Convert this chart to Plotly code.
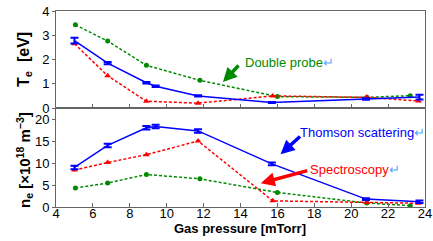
import plotly.graph_objects as go
from plotly.subplots import make_subplots

# Gas pressure [mTorr]
x_thomson = [5.0, 6.8, 8.9, 9.4, 11.7, 15.7, 20.8, 23.7]
x_spectro = [5.0, 6.8, 8.9, 11.7, 15.75, 20.85, 23.65]
x_probe = [5.05, 6.8, 8.9, 11.8, 16.0, 20.85, 23.2]

# Te [eV]
te_thomson = [2.78, 1.85, 1.04, 0.9, 0.5, 0.23, 0.37, 0.45]
te_thomson_err = [0.12, 0.05, 0.03, 0.03, 0.03, 0.02, 0.03, 0.1]
te_spectro = [2.65, 1.33, 0.28, 0.2, 0.5, 0.44, 0.29]
te_probe = [3.43, 2.76, 1.76, 1.14, 0.47, 0.44, 0.51]

# ne [x10^18 m^-3]
ne_thomson = [9.0, 14.0, 18.0, 18.3, 17.3, 9.8, 1.8, 1.2]
ne_thomson_err = [0.4, 0.4, 0.4, 0.4, 0.4, 0.3, 0.2, 0.3]
ne_spectro = [8.4, 10.1, 11.9, 15.0, 1.4, 1.0, 0.84]
ne_probe = [4.3, 5.45, 7.4, 6.4, 3.3, 0.9, 0.3]

BLUE = "#0000ff"
RED = "#ff0000"
GREEN = "#008a00"
RET = "#5aa8ff"
FONT = "Liberation Sans"

L, R, T, B = 56, 425, 11, 207

fig = make_subplots(rows=2, cols=1, shared_xaxes=True, vertical_spacing=0)

def add_series(row, yb, yb_err, yr, yg):
    fig.add_trace(go.Scatter(x=x_probe, y=yg, mode="lines+markers",
                             line=dict(color=GREEN, width=1.5, dash="3px,2px"),
                             marker=dict(color=GREEN, size=5, symbol="circle"),
                             showlegend=False), row=row, col=1)
    fig.add_trace(go.Scatter(x=x_spectro, y=yr, mode="lines+markers",
                             line=dict(color=RED, width=1.5, dash="3px,2px"),
                             marker=dict(color=RED, size=6, symbol="triangle-up"),
                             showlegend=False), row=row, col=1)
    fig.add_trace(go.Scatter(x=x_thomson, y=yb, mode="lines",
                             line=dict(color=BLUE, width=1.5),
                             error_y=dict(type="data", array=yb_err, color=BLUE,
                                          thickness=2, width=4),
                             showlegend=False), row=row, col=1)

add_series(1, te_thomson, te_thomson_err, te_spectro, te_probe)
add_series(2, ne_thomson, ne_thomson_err, ne_spectro, ne_probe)

axis_common = dict(showline=True, linecolor="#666", linewidth=1, mirror=True,
                   showgrid=False, zeroline=False, automargin=False,
                   tickfont=dict(family=FONT, size=13, color="black"))

fig.update_xaxes(range=[4, 24], dtick=2, ticks="inside", ticklen=4, tickcolor="#666",
                 ticklabelstandoff=-6, **axis_common)
fig.update_xaxes(showticklabels=False, row=1, col=1)

fig.update_yaxes(ticks="outside", ticklen=3, tickcolor="#666", **axis_common)
fig.update_yaxes(range=[0, 4], tickvals=[0, 1, 2, 3, 4], domain=[0.505, 1.0],
                 row=1, col=1)
fig.update_yaxes(range=[0, 22.5], tickvals=[0, 5, 10, 15, 20], domain=[0.0, 0.505],
                 row=2, col=1)

def px_to_paper(px, py):
    return (px - L) / (R - L), 1 - (py - T) / (B - T)

def text_at(text, cx, cy, size, color="black", angle=0):
    x, y = px_to_paper(cx, cy)
    fig.add_annotation(x=x, y=y, xref="paper", yref="paper", showarrow=False,
                       text=text, textangle=angle,
                       font=dict(family=FONT, size=size, color=color),
                       xanchor="center", yanchor="middle")

# axis titles
text_at("<b>Gas pressure [mTorr]</b>", 240, 228, 13)
text_at("<b>T<sub>e</sub>  [eV]</b>", 24, 60, 16, angle=-90)
text_at("<b>n<sub>e</sub> [×10<sup>18</sup> m<sup>−3</sup>]</b>", 24, 160, 15, angle=-90)

# series labels
ret = f"<span style='color:{RET}'>↵</span>"
text_at("Double probe" + ret, 289, 62, 13, GREEN)
text_at("Thomson scattering" + ret, 362, 132, 13, BLUE)
text_at("Spectroscopy" + ret, 355, 169, 13, RED)

fig.add_annotation(x=13.05, y=1.07, xref="x", yref="y", ax=17, ay=-18, text="",
                   showarrow=True, arrowhead=2, arrowsize=0.8, arrowwidth=3.5,
                   arrowcolor=GREEN)
fig.add_annotation(x=16.17, y=12.0, xref="x2", yref="y2", ax=21, ay=-19, text="",
                   showarrow=True, arrowhead=2, arrowsize=0.8, arrowwidth=3.5,
                   arrowcolor=BLUE)
fig.add_annotation(x=15.1, y=5.4, xref="x2", yref="y2", ax=48, ay=-13, text="",
                   showarrow=True, arrowhead=2, arrowsize=0.8, arrowwidth=3.5,
                   arrowcolor=RED)

fig.update_layout(width=433, height=241, margin=dict(l=L, r=433 - R, t=T, b=241 - B),
                  paper_bgcolor="white", plot_bgcolor="white",
                  font=dict(family=FONT, size=13, color="black"))

fig.write_html("out.html", config={"displayModeBar": False},
               post_script="document.body.style.margin='0';document.body.style.padding='0';")
